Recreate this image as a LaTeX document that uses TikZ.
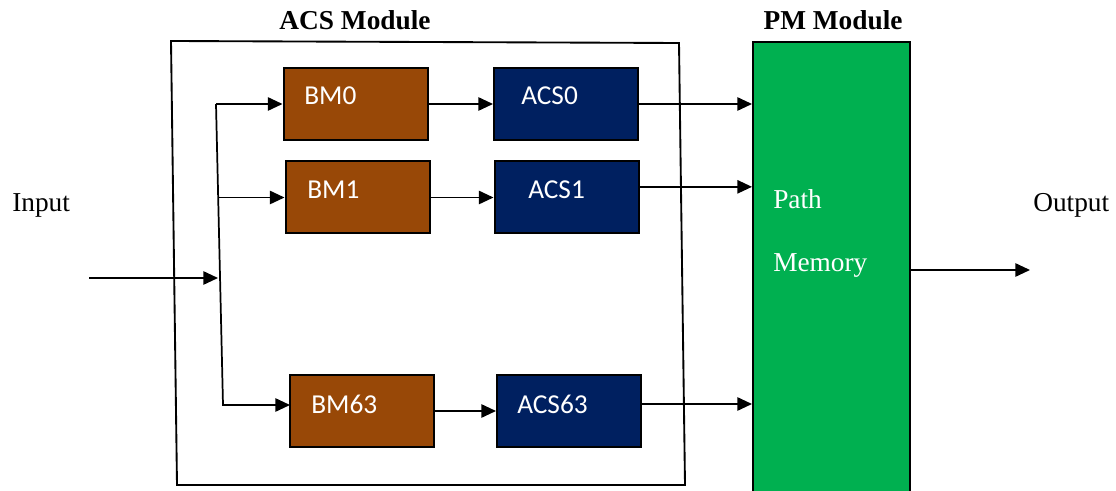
\documentclass[tikz,border=0pt]{standalone}
\usepackage{fontspec}
\setmainfont{Liberation Serif}
\newfontfamily\boxfont{Carlito}
\usetikzlibrary{arrows.meta}
\tikzset{
  blk/.style={draw=black, line width=1.5pt, minimum width=108pt, minimum height=54pt, inner sep=0pt},
  bmbox/.style={blk, fill=bmbrown},
  acsbox/.style={blk, fill=acsnavy},
  boxlbl/.style={anchor=base west, inner sep=0pt, text=white, font=\boxfont\fontsize{20.5}{24}\selectfont},
  title/.style={anchor=base, inner sep=0pt, font=\bfseries\fontsize{20.5}{24}\selectfont},
  plain/.style={anchor=base west, inner sep=0pt, font=\fontsize{20.5}{24}\selectfont},
  arr/.style={line width=1.3pt, -{Triangle[length=11pt,width=10pt]}},
  wire/.style={line width=1.3pt},
}
\definecolor{bmbrown}{HTML}{984807}
\definecolor{acsnavy}{HTML}{002060}
\definecolor{pmgreen}{HTML}{00B050}
\begin{document}
\begin{tikzpicture}[x=0.75pt, y=-0.75pt]
\useasboundingbox (0,0) rectangle (1116,491);

% ACS module outline
\draw[wire, line width=1.4pt] (171,41) -- (679,43) -- (685,485) -- (177,485) -- cycle;
\node[title] (acstitle) at (355,30) {ACS Module};

% path memory block
\node[draw=black, line width=1.5pt, fill=pmgreen, minimum width=117.75pt, minimum height=345pt, inner sep=0pt] (pm) at (831.5,272) {};
\node[title] (pmtitle) at (833,30) {PM Module};
\node[plain, text=white] (path) at (773,209) {Path};
\node[plain, text=white] (mem) at (773,272) {Memory};

% branch metric units
\node[bmbox] (bm0) at (355.5,104) {};
\node[bmbox] (bm1) at (357.5,197.5) {};
\node[bmbox] (bm63) at (362,411) {};
\node[boxlbl] (bm0l) at (304,105) {BM0};
\node[boxlbl] (bm1l) at (307,199) {BM1};
\node[boxlbl] (bm63l) at (311,413) {BM63};

% add-compare-select units
\node[acsbox] (acs0) at (566,104) {};
\node[acsbox] (acs1) at (566.5,197.5) {};
\node[acsbox] (acs63) at (569,411) {};
\node[boxlbl] (acs0l) at (521,105) {ACS0};
\node[boxlbl] (acs1l) at (528,199) {ACS1};
\node[boxlbl] (acs63l) at (517,413) {ACS63};

% input and distribution trunk
\node[plain] (inlbl) at (12,212) {Input};
\coordinate (inp) at (89,278);
\coordinate (injoin) at (218,278);
\coordinate (ttop) at (216,104);
\coordinate (tmid) at (218,197.5);
\coordinate (tbot) at (223,405);
\coordinate (b63in) at (290,405);
\draw[arr] (inp) -- (injoin);
\draw[arr] (ttop) -- (bm0.west);
\draw[arr] (tmid) -- (bm1.west);
\draw[arr] (ttop) -- (tbot) -- (b63in);

% BM to ACS
\draw[arr] (bm0.east) -- (acs0.west);
\draw[arr] (bm1.east) -- (acs1.west);
\draw[arr] (bm63.east) -- (acs63.west);

% ACS to path memory
\coordinate (a1o) at ([yshift=8pt]acs1.east);
\coordinate (a63o) at ([yshift=5.25pt]acs63.east);
\draw[arr] (acs0.east) -- (acs0.east -| pm.west);
\draw[arr] (a1o) -- (a1o -| pm.west);
\draw[arr] (a63o) -- (a63o -| pm.west);

% output
\node[plain] (outlbl) at (1033,212) {Output};
\coordinate (outend) at (1030,270);
\draw[arr] (outend -| pm.east) -- (outend);
\end{tikzpicture}
\end{document}
